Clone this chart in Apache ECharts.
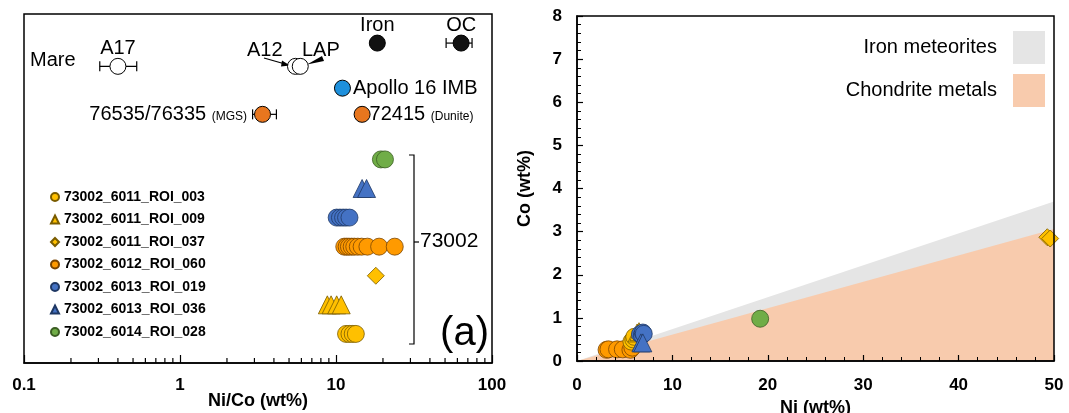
<!DOCTYPE html>
<html><head><meta charset="utf-8">
<script src="https://cdn.jsdelivr.net/npm/echarts@6/dist/echarts.min.js"></script>
<style>html,body{margin:0;padding:0;background:#fff}#c{width:1069px;height:413px}</style>
</head><body><div id="c"></div>
<script>
// ---------- DATA ----------
// Panel (a): Ni/Co ratio (wt%), one row per ROI (row positions on hidden y scale)
const roiNames = ['73002_6011_ROI_003','73002_6011_ROI_009','73002_6011_ROI_037','73002_6012_ROI_060','73002_6013_ROI_019','73002_6013_ROI_036','73002_6014_ROI_028'];
const roiRow = [1, 2, 3, 4, 5, 6, 7];
const ratio_ROI_003 = [11.6, 12.2, 12.8, 13.4];
const ratio_ROI_009 = [8.8, 9.3, 10.1, 10.8];
const ratio_ROI_037 = [18.0];
const ratio_ROI_060 = [11.3, 11.7, 12.1, 12.6, 13.1, 13.8, 14.6, 15.9, 18.9, 23.8];
const ratio_ROI_019 = [10.1, 10.6, 11.1, 11.6, 12.2];
const ratio_ROI_036 = [14.7, 15.7];
const ratio_ROI_028 = [19.4, 20.6];

// Reference materials (panel a)
const refNames = ['Iron', 'OC', 'A17', 'A12', 'LAP', 'Apollo 16 IMB', '76535/76335', '72415'];
const refRatio = [18.4, 63.4, 0.40, 5.5, 5.9, 11.0, 3.38, 14.7];
const refRow   = [11.0, 11.0, 10.2, 10.2, 10.2, 9.45, 8.55, 8.55];
// error bars: [low, high, row]
const errNames = ['OC', 'A17', '76535/76335'];
const errLow  = [50.8, 0.306, 2.92];
const errHigh = [74.5, 0.528, 4.15];
const errRow  = [11.0, 10.2, 8.55];
const logMinorTicks = [0.2,0.3,0.4,0.5,0.6,0.7,0.8,0.9,2,3,4,5,6,7,8,9,20,30,40,50,60,70,80,90];

// Panel (b): Ni (wt%) and Co (wt%)
const Ni_ROI_003 = [5.7, 5.9, 6.0];   const Co_ROI_003 = [0.45, 0.50, 0.56];
const Ni_ROI_009 = [6.3, 6.5];        const Co_ROI_009 = [0.65, 0.68];
const Ni_ROI_037 = [49.3, 49.6];      const Co_ROI_037 = [2.87, 2.84];
const Ni_ROI_060 = [3.1, 3.3, 4.2, 4.8, 5.6, 5.8]; const Co_ROI_060 = [0.26, 0.27, 0.27, 0.27, 0.26, 0.31];
const Ni_ROI_019 = [6.6, 6.8, 6.9, 7.0]; const Co_ROI_019 = [0.62, 0.60, 0.66, 0.63];
const Ni_ROI_036 = [6.7, 6.9];        const Co_ROI_036 = [0.42, 0.42];
const Ni_ROI_028 = [19.2];            const Co_ROI_028 = [0.98];
// Field boundaries (Co at Ni = 0 and Ni = 50)
const fieldNames = ['Iron meteorites', 'Chondrite metals'];
const fieldNi = [0, 50];
const ironCo = [0, 3.7];
const chondriteCo = [0, 3.06];

// ---------- STYLE ----------
const FONT = 'Liberation Sans, Arial, sans-serif';
const roiStyle = [
  {symbol:'circle',   color:'#FFC000', border:'#7a5c00', size:17},
  {symbol:'triangle', color:'#FFC000', border:'#7a5c00', size:18},
  {symbol:'diamond',  color:'#FFC000', border:'#7a5c00', size:17},
  {symbol:'circle',   color:'#FF9A00', border:'#7a4400', size:17},
  {symbol:'circle',   color:'#4472C4', border:'#1F3864', size:17},
  {symbol:'triangle', color:'#4472C4', border:'#1F3864', size:18},
  {symbol:'circle',   color:'#70AD47', border:'#3B5E23', size:17}
];
const roiRatio = [ratio_ROI_003, ratio_ROI_009, ratio_ROI_037, ratio_ROI_060, ratio_ROI_019, ratio_ROI_036, ratio_ROI_028];
const roiNi = [Ni_ROI_003, Ni_ROI_009, Ni_ROI_037, Ni_ROI_060, Ni_ROI_019, Ni_ROI_036, Ni_ROI_028];
const roiCo = [Co_ROI_003, Co_ROI_009, Co_ROI_037, Co_ROI_060, Co_ROI_019, Co_ROI_036, Co_ROI_028];

const refStyle = {
  'Iron': {fill:'#111111', label:{show:true, position:'top', distance:-1, formatter:'Iron'}},
  'OC': {fill:'#111111', label:{show:true, position:'top', distance:-1, formatter:'OC'}},
  'A17': {fill:'#ffffff', label:{show:true, position:'top', distance:-1, formatter:'A17'}},
  'A12': {fill:'#ffffff', label:{show:false}},
  'LAP': {fill:'#ffffff', label:{show:false}},
  'Apollo 16 IMB': {fill:'#1E90DC', label:{show:true, position:'right', distance:2, formatter:'Apollo 16 IMB'}},
  '76535/76335': {fill:'#E8761E', label:{show:true, position:'left', distance:7, formatter:'{a|76535/76335} {b|(MGS)}'}},
  '72415': {fill:'#E8761E', label:{show:true, position:'right', distance:-1, formatter:'{a|72415} {b|(Dunite)}'}}
};

const series = [];
// field areas (panel b)
series.push({
  name: fieldNames[0], type:'line', xAxisIndex:1, yAxisIndex:1, z:1,
  data: fieldNi.map((x,i)=>[x, ironCo[i]]), symbol:'none', silent:true,
  lineStyle:{width:0}, itemStyle:{color:'#E5E5E5'}, areaStyle:{color:'#E5E5E5', opacity:1}
});
series.push({
  name: fieldNames[1], type:'line', xAxisIndex:1, yAxisIndex:1, z:1,
  data: fieldNi.map((x,i)=>[x, chondriteCo[i]]), symbol:'none', silent:true,
  lineStyle:{width:0}, itemStyle:{color:'#F8CBAD'}, areaStyle:{color:'#F8CBAD', opacity:1}
});
// log minor ticks (panel a)
series.push({
  type:'custom', xAxisIndex:0, yAxisIndex:0, silent:true, z:5, clip:false,
  data: logMinorTicks.map(v=>[v, 0]),
  renderItem: function(params, api){
    const p = api.coord([api.value(0), 0]);
    return {type:'line', shape:{x1:p[0], y1:p[1], x2:p[0], y2:p[1]-5}, style:{stroke:'#000', lineWidth:1.2}};
  }
});
// error bars (panel a)
series.push({
  type:'custom', xAxisIndex:0, yAxisIndex:0, silent:true, z:2,
  data: errNames.map((n,i)=>[errLow[i], errHigh[i], errRow[i]]),
  renderItem: function(params, api){
    const y = api.value(2);
    const a = api.coord([api.value(0), y]);
    const b = api.coord([api.value(1), y]);
    const h = 5, st = {stroke:'#000', lineWidth:1.2};
    return {type:'group', children:[
      {type:'line', shape:{x1:a[0], y1:a[1], x2:b[0], y2:b[1]}, style:st},
      {type:'line', shape:{x1:a[0], y1:a[1]-h, x2:a[0], y2:a[1]+h}, style:st},
      {type:'line', shape:{x1:b[0], y1:b[1]-h, x2:b[0], y2:b[1]+h}, style:st}
    ]};
  }
});
// reference points (panel a)
series.push({
  type:'scatter', xAxisIndex:0, yAxisIndex:0, z:4, symbol:'circle', symbolSize:16,
  data: refNames.map((n,i)=>{
    const s = refStyle[n];
    return {name:n, value:[refRatio[i], refRow[i]],
      itemStyle:{color:s.fill, borderColor:'#000', borderWidth:1, opacity:1},
      label:Object.assign({color:'#000', fontFamily:FONT, fontSize:20,
        rich:{a:{fontFamily:FONT, fontSize:20, color:'#000'}, b:{fontFamily:FONT, fontSize:12, color:'#000', padding:[5,0,0,0]}}}, s.label)};
  })
});
// ROI series (panel a and b)
roiNames.forEach((name, k)=>{
  const st = roiStyle[k];
  series.push({
    name, type:'scatter', xAxisIndex:0, yAxisIndex:0, z:4,
    symbol: st.symbol, symbolSize: st.size,
    itemStyle:{color:st.color, borderColor:st.border, borderWidth:0.8, opacity:1},
    data: roiRatio[k].map(v=>[v, roiRow[k]])
  });
});
const orderB = [3, 0, 1, 2, 4, 5, 6];
orderB.forEach(k=>{
  const st = roiStyle[k];
  series.push({
    name: roiNames[k], type:'scatter', xAxisIndex:1, yAxisIndex:1, z:4,
    symbol: st.symbol, symbolSize: st.size,
    itemStyle:{color:st.color, borderColor:st.border, borderWidth:0.8, opacity:1},
    data: roiNi[k].map((v,i)=>[v, roiCo[k][i]])
  });
});

const axisLabelStyle = {color:'#000', fontFamily:FONT, fontWeight:'bold', fontSize:17};
const nameStyle = {color:'#000', fontFamily:FONT, fontWeight:'bold', fontSize:18};

const option = {
  animation:false,
  backgroundColor:'#fff',
  grid:[
    {left:24, top:14, width:468, height:349, show:true, borderColor:'#000', borderWidth:1.5, backgroundColor:'transparent', z:10, outerBoundsMode:'none', containLabel:false},
    {left:577, top:16, width:477, height:345, show:true, borderColor:'#000', borderWidth:1.5, backgroundColor:'transparent', z:10, outerBoundsMode:'none', containLabel:false}
  ],
  xAxis:[
    {gridIndex:0, type:'log', logBase:10, min:0.1, max:100,
     axisLine:{show:true, lineStyle:{color:'#000', width:1.5}},
     axisTick:{show:true, inside:true, length:8, lineStyle:{color:'#000', width:1.2}},
     splitLine:{show:false},
     axisLabel:Object.assign({margin:14}, axisLabelStyle),
     name:'Ni/Co (wt%)', nameLocation:'middle', nameGap:29, nameMoveOverlap:false, nameTextStyle:nameStyle},
    {gridIndex:1, type:'value', min:0, max:50, interval:10, z:10,
     axisLine:{show:true, lineStyle:{color:'#000', width:1.5}},
     axisTick:{show:true, inside:true, length:6, lineStyle:{color:'#000', width:1.2}},
     minorTick:{show:true, splitNumber:5, length:4, lineStyle:{color:'#000', width:1}},
     splitLine:{show:false},
     axisLabel:Object.assign({margin:16}, axisLabelStyle),
     name:'Ni (wt%)', nameLocation:'middle', nameGap:38, nameMoveOverlap:false, nameTextStyle:nameStyle}
  ],
  yAxis:[
    {gridIndex:0, type:'value', min:0, max:12, show:false},
    {gridIndex:1, type:'value', min:0, max:8, interval:1, z:10,
     axisLine:{show:true, lineStyle:{color:'#000', width:1.5}},
     axisTick:{show:true, inside:true, length:6, lineStyle:{color:'#000', width:1.2}},
     minorTick:{show:true, splitNumber:5, length:4, lineStyle:{color:'#000', width:1}},
     splitLine:{show:false},
     axisLabel:Object.assign({margin:15}, axisLabelStyle),
     name:'Co (wt%)', nameLocation:'middle', nameGap:43, nameRotate:90, nameMoveOverlap:false, nameTextStyle:nameStyle}
  ],
  legend:[
    {data:roiNames, orient:'vertical', left:50, top:190, padding:0, itemWidth:8, itemHeight:8, itemGap:8.5,
     selectedMode:false,
     textStyle:{color:'#000', fontFamily:FONT, fontWeight:'bold', fontSize:14, lineHeight:14}},
    {data:fieldNames.map((n,i)=>({name:n, icon:'rect', itemStyle:{color: i===0 ? '#E5E5E5' : '#F8CBAD', borderWidth:0}})),
     orient:'vertical', align:'right', right:24, top:31, padding:0, itemWidth:32, itemHeight:33, itemGap:10,
     selectedMode:false, formatter: n => n + '  ',
     textStyle:{color:'#000', fontFamily:FONT, fontSize:20}}
  ],
  graphic:[
    {type:'text', left:30, top:50, style:{text:'Mare', font:'20px '+FONT, fill:'#000'}},
    {type:'text', left:247, top:40, style:{text:'A12', font:'20px '+FONT, fill:'#000'}},
    {type:'text', left:302, top:40, style:{text:'LAP', font:'20px '+FONT, fill:'#000'}},
    {type:'line', shape:{x1:264, y1:58, x2:285, y2:64}, style:{stroke:'#000', lineWidth:1.2}},
    {type:'polygon', shape:{points:[[290,65.5],[282,60.5],[281,66.5]]}, style:{fill:'#000'}},
    {type:'polygon', shape:{points:[[322,56],[324,61],[307,64.5]]}, style:{fill:'#000'}},
    {type:'polyline', shape:{points:[[409,155],[414,155],[414,344],[409,344]]}, style:{stroke:'#000', lineWidth:1.2, fill:null}},
    {type:'line', shape:{x1:414, y1:242, x2:419, y2:242}, style:{stroke:'#000', lineWidth:1.2}},
    {type:'text', left:420, top:231, style:{text:'73002', font:'21px '+FONT, fill:'#000'}},
    {type:'text', right:1069-489, top:314, style:{text:'(a)', font:'40px '+FONT, fill:'#000'}},
    {type:'text', right:1069-1049, top:314, style:{text:'(b)', font:'40px '+FONT, fill:'#000'}}
  ],
  series
};
const chart = echarts.init(document.getElementById('c'), null, {renderer:'canvas'});
chart.setOption(option);
</script></body></html>
